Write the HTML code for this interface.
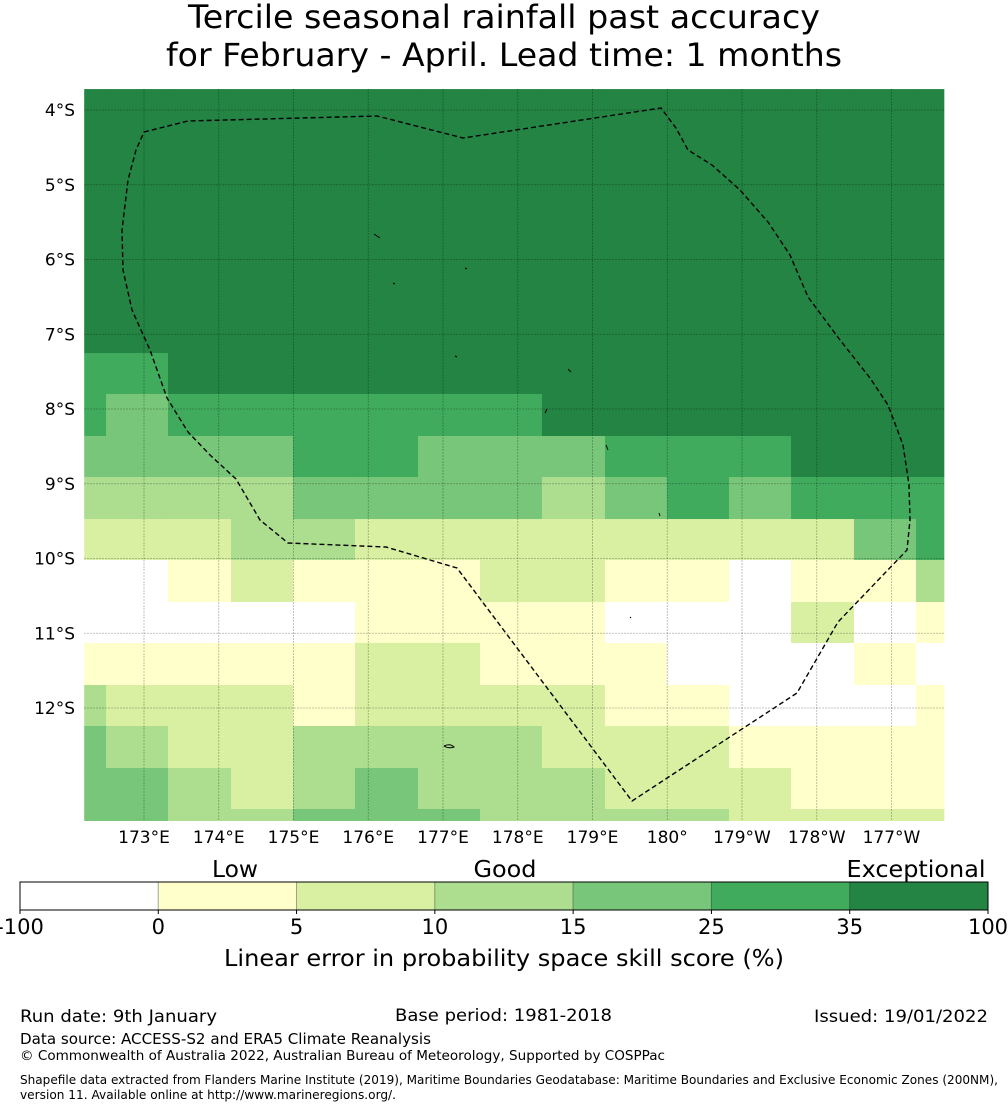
<!DOCTYPE html>
<html><head><meta charset="utf-8"><style>
html,body{margin:0;padding:0;background:#fff;}
svg{display:block;font-family:"DejaVu Sans","Liberation Sans",sans-serif;}
</style></head><body>
<svg id="chart" width="1008" height="1110" viewBox="0 0 1008 1110" xmlns="http://www.w3.org/2000/svg">
<text x="504" y="28" font-size="32" text-anchor="middle" textLength="632" lengthAdjust="spacingAndGlyphs">Tercile seasonal rainfall past accuracy</text>
<text x="504" y="66" font-size="32" text-anchor="middle" textLength="676" lengthAdjust="spacingAndGlyphs">for February - April. Lead time: 1 months</text>
<g id="cells"></g>
<g id="grid"></g>
<path fill="none" stroke="#000" stroke-width="1.4" stroke-dasharray="5,3" d="M144,132 L188,121 L377,116 L463,138 L661,108 L676,128 L688,150 L712,165 L740,190 L768,222 L790,255 L808,297 L840,340 L870,378 L888,405 L903,445 L909,485 L910,520 L907,550 L838,622 L797,693 L632,801 L457,568 L386,547 L288,543 L260,520 L236,479 L210,455 L188,432 L167,398 L150,350 L132,310 L123,270 L122,230 L128,180 L136,150 Z"/>
<g stroke="#000" stroke-width="1" fill="none">
<path d="M374,234 L380,238"/><path d="M393,283 L395,284"/><path d="M465,268 L467,269"/><path d="M455,356 L457,357"/><path d="M568,369 L571,372"/><path d="M545,413 L547,409"/><path d="M606,445 L608,450"/><path d="M659,513 L660,516"/><path d="M444,746 Q450,743 454,747 Q449,749 444,746"/><path d="M630,617 L631,618"/>
</g>
<g id="axes" font-size="16"></g>
<g id="cbar"></g>
<text x="235" y="877" font-size="23" text-anchor="middle" textLength="46" lengthAdjust="spacingAndGlyphs">Low</text>
<text x="505" y="877" font-size="23" text-anchor="middle" textLength="63" lengthAdjust="spacingAndGlyphs">Good</text>
<text x="916" y="877" font-size="23" text-anchor="middle" textLength="139" lengthAdjust="spacingAndGlyphs">Exceptional</text>
<text x="504" y="966" font-size="23" text-anchor="middle" textLength="560" lengthAdjust="spacingAndGlyphs">Linear error in probability space skill score (%)</text>
<text x="20" y="1022" font-size="17" textLength="197" lengthAdjust="spacingAndGlyphs">Run date: 9th January</text>
<text x="395" y="1021" font-size="17" textLength="217" lengthAdjust="spacingAndGlyphs">Base period: 1981-2018</text>
<text x="814" y="1022" font-size="17" textLength="174" lengthAdjust="spacingAndGlyphs">Issued: 19/01/2022</text>
<text x="20" y="1044" font-size="15" textLength="411" lengthAdjust="spacingAndGlyphs">Data source: ACCESS-S2 and ERA5 Climate Reanalysis</text>
<text x="20" y="1060" font-size="13" textLength="645" lengthAdjust="spacingAndGlyphs">© Commonwealth of Australia 2022, Australian Bureau of Meteorology, Supported by COSPPac</text>
<text x="20" y="1084" font-size="12" textLength="978" lengthAdjust="spacingAndGlyphs">Shapefile data extracted from Flanders Marine Institute (2019), Maritime Boundaries Geodatabase: Maritime Boundaries and Exclusive Economic Zones (200NM),</text>
<text x="20" y="1099" font-size="12" textLength="376" lengthAdjust="spacingAndGlyphs">version 11. Available online at http://www.marineregions.org/.</text>
</svg>
<script>
// ---- data ----
const classColors = ["#ffffff","#ffffcc","#d9f0a3","#addd8e","#78c679","#41ab5d","#238443"];
const classBounds = [-100,0,5,10,15,25,35,100];
const classLabels = ["-100","0","5","10","15","25","35","100"];
const lonEdges = [172.2,172.492,173.321,174.164,174.993,175.823,176.666,177.495,178.324,179.167,179.997,180.826,181.656,182.498,183.328,183.7];
const latEdges = [3.72,7.251,7.799,8.361,8.910,9.472,10.020,10.582,11.130,11.692,12.241,12.803,13.351,13.52];
const row0  = [6,6,6,6,6,6,6,6,6,6,6,6,6,6,6];
const row1  = [5,5,6,6,6,6,6,6,6,6,6,6,6,6,6];
const row2  = [5,4,5,5,5,5,5,5,6,6,6,6,6,6,6];
const row3  = [4,4,4,4,5,5,4,4,4,5,5,5,6,6,6];
const row4  = [3,3,3,3,4,4,4,4,3,4,5,4,5,5,5];
const row5  = [2,2,2,3,3,2,2,2,2,2,2,2,2,4,5];
const row6  = [0,0,1,2,1,1,1,2,2,1,1,0,1,1,3];
const row7  = [0,0,0,0,0,1,1,1,1,0,0,0,2,0,1];
const row8  = [1,1,1,1,1,2,2,1,1,1,0,0,0,1,0];
const row9  = [3,2,2,2,1,2,2,2,2,1,1,0,0,0,1];
const row10 = [4,3,2,2,3,3,3,3,2,2,2,1,1,1,1];
const row11 = [4,4,3,2,3,4,3,3,3,2,2,2,1,1,1];
const row12 = [4,4,3,3,4,4,4,3,3,3,3,2,2,2,2];
const rows = [row0,row1,row2,row3,row4,row5,row6,row7,row8,row9,row10,row11,row12];
const lonTicks = [173,174,175,176,177,178,179,180,181,182,183];
const lonTickLabels = ["173°E","174°E","175°E","176°E","177°E","178°E","179°E","180°","179°W","178°W","177°W"];
const latTicks = [4,5,6,7,8,9,10,11,12];
const latTickLabels = ["4°S","5°S","6°S","7°S","8°S","9°S","10°S","11°S","12°S"];

// ---- axes ----
const X0=84, X1=944, Y0=89, Y1=821;
const pxPerDeg = 74.75;
function xScale(lon){ return 144 + (lon-173)*pxPerDeg; }
function yScale(lat){ return 110 + (lat-4)*pxPerDeg; }
function clampX(v){ return Math.max(X0, Math.min(X1, v)); }
function clampY(v){ return Math.max(Y0, Math.min(Y1, v)); }
const NS="http://www.w3.org/2000/svg";
function mk(tag, attrs, parent){ const e=document.createElementNS(NS,tag); for(const k in attrs) e.setAttribute(k,attrs[k]); parent.appendChild(e); return e; }

const cells=document.getElementById('cells');
rows.forEach((row,ri)=>{
  row.forEach((c,ci)=>{
    const x0=clampX(xScale(lonEdges[ci])), x1=clampX(xScale(lonEdges[ci+1]));
    const y0=clampY(yScale(latEdges[ri])), y1=clampY(yScale(latEdges[ri+1]));
    const w=Math.max(0,x1-x0+(x1<X1?0.5:0)), h=Math.max(0,y1-y0+(y1<Y1?0.5:0));
    const r=mk('rect',{x:x0,y:y0,width:w,height:h,fill:classColors[c]},cells);
    
    
  });
});

const grid=document.getElementById('grid');
const axes=document.getElementById('axes');
lonTicks.forEach((lon,i)=>{
  const x=xScale(lon);
  const l=mk('line',{x1:x,y1:Y0,x2:x,y2:Y1,stroke:'rgba(0,0,0,0.3)','stroke-width':0.8,'stroke-dasharray':'2,1'},grid);
  
  
  const t=mk('text',{x:x,y:843,'text-anchor':'middle','font-size':17},axes);
  t.textContent=lonTickLabels[i];
  
  
});
latTicks.forEach((lat,i)=>{
  const y=yScale(lat);
  const l=mk('line',{x1:X0,y1:y,x2:X1,y2:y,stroke:'rgba(0,0,0,0.3)','stroke-width':0.8,'stroke-dasharray':'2,1'},grid);
  
  
  const t=mk('text',{x:75,y:y+6,'text-anchor':'end','font-size':17},axes);
  t.textContent=latTickLabels[i];
  
  
});

// ---- colorbar ----
const cbar=document.getElementById('cbar');
const CB0=20, CB1=988, CBY=882, CBH=28;
const segW=(CB1-CB0)/(classBounds.length-1);
function cbX(i){ return CB0 + i*segW; }
classColors.forEach((col,i)=>{
  const r=mk('rect',{x:cbX(i),y:CBY,width:segW,height:CBH,fill:col,stroke:'rgba(0,0,0,0.25)','stroke-width':1},cbar);
  
  
});
mk('rect',{x:CB0,y:CBY,width:CB1-CB0,height:CBH,fill:'none',stroke:'#000','stroke-width':1},cbar);
classLabels.forEach((lab,i)=>{
  const x=cbX(i);
  mk('line',{x1:x,y1:CBY+CBH,x2:x,y2:CBY+CBH+4,stroke:'#000'},cbar);
  const t=mk('text',{x:x,y:934,'font-size':21,'text-anchor':'middle'},cbar);
  t.textContent=lab;
  
  
});
</script>
</body></html>
